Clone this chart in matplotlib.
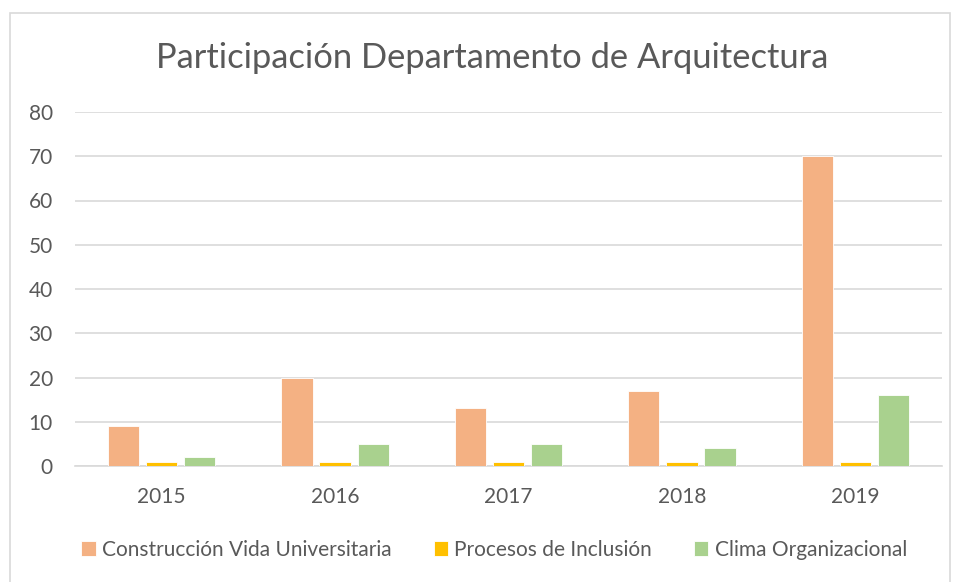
import matplotlib.pyplot as plt
from matplotlib.patches import Rectangle
import numpy as np

plt.rcParams['font.family'] = ['Lato', 'DejaVu Sans']

years = ['2015', '2016', '2017', '2018', '2019']
construccion = [9, 20, 13, 17, 70]
inclusion = [1, 1, 1, 1, 1]
clima = [2, 5, 5, 4, 16]

series = [
    ('Construcción Vida Universitaria', construccion, '#F4B183'),
    ('Procesos de Inclusión', inclusion, '#FFC000'),
    ('Clima Organizacional', clima, '#A9D18E'),
]

text_color = '#595959'
grid_color = '#D9D9D9'

fig = plt.figure(figsize=(9.56, 5.82), dpi=100)
ax = fig.add_axes([75 / 956, 1 - 466 / 582, (942 - 75) / 956, (466 - 112) / 582])

# chart border
fig.patches.append(Rectangle((10 / 956, -0.01), 940 / 956, 1 - 13 / 582 + 0.01,
                             transform=fig.transFigure, fill=False,
                             edgecolor=grid_color, linewidth=1.2))

x = np.arange(len(years))
width = 0.18
offsets = [-0.22, 0, 0.22]
for (label, vals, color), off in zip(series, offsets):
    ax.bar(x + off, vals, width, color=color, label=label, zorder=3,
           edgecolor='white', linewidth=0.6)

ax.set_xlim(-0.5, len(years) - 0.5)
ax.set_ylim(0, 80)
ax.set_yticks(range(0, 81, 10))
ax.set_xticks(x)
ax.set_xticklabels(years)
ax.yaxis.grid(True, color=grid_color, linewidth=1.2, zorder=0)
ax.set_axisbelow(True)
for side in ['top', 'right', 'left']:
    ax.spines[side].set_visible(False)
ax.spines['bottom'].set_color(grid_color)
ax.spines['bottom'].set_linewidth(1.2)
ax.tick_params(axis='both', length=0, labelsize=15, colors=text_color)
ax.tick_params(axis='x', pad=15)
ax.tick_params(axis='y', pad=16)

fig.text(0.515, 1 - 58 / 582, 'Participación Departamento de Arquitectura',
         ha='center', va='center', fontsize=24.8, color=text_color)

fig.legend(loc='center', bbox_to_anchor=(0.517, 1 - 550 / 582), ncol=3,
           frameon=False, fontsize=15, labelcolor=text_color,
           handlelength=0.7, handleheight=0.7, handletextpad=0.3,
           columnspacing=2.0)

fig.savefig('out.png', dpi=100)
